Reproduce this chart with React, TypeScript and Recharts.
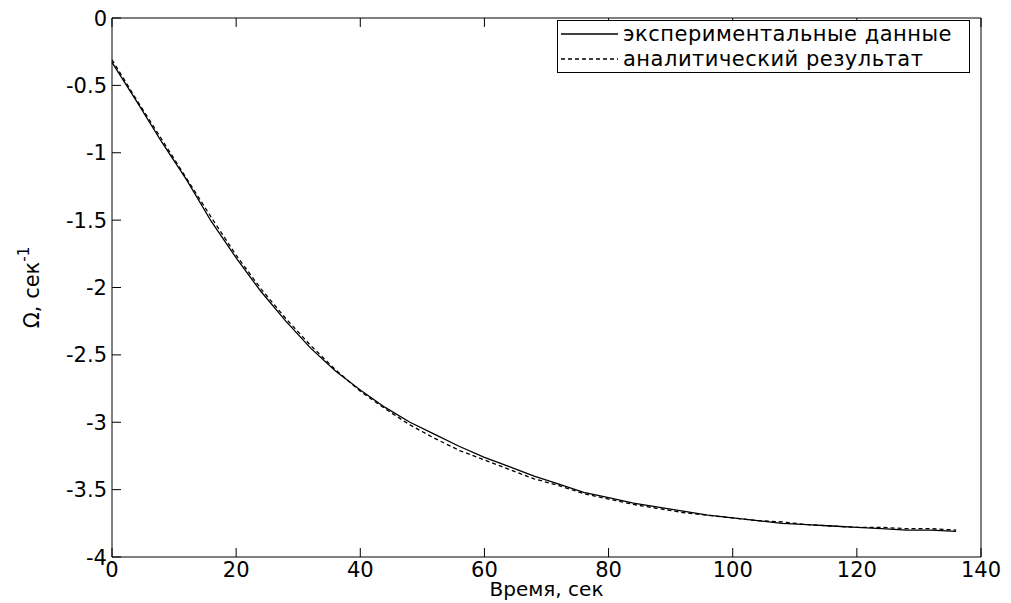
import React from 'react';
import { LineChart, Line, XAxis, YAxis, Legend } from 'recharts';

// time, s
const TIME = [0, 4, 8, 12, 16, 20, 24, 28, 32, 36, 40, 44, 48, 52, 56, 60, 64, 68, 72, 76, 80, 84, 88, 92, 96, 100, 104, 108, 112, 116, 120, 124, 128, 132, 136];
// экспериментальные данные
const EXPERIMENT = [-0.33, -0.62, -0.92, -1.2, -1.51, -1.78, -2.03, -2.25, -2.45, -2.62, -2.76, -2.89, -3.0, -3.09, -3.18, -3.26, -3.33, -3.4, -3.46, -3.52, -3.56, -3.6, -3.63, -3.66, -3.69, -3.71, -3.73, -3.75, -3.76, -3.77, -3.78, -3.79, -3.8, -3.8, -3.81];
// аналитический результат
const ANALYTIC = [-0.31, -0.61, -0.9, -1.19, -1.48, -1.76, -2.01, -2.23, -2.43, -2.61, -2.77, -2.9, -3.02, -3.12, -3.21, -3.28, -3.35, -3.42, -3.47, -3.53, -3.57, -3.61, -3.64, -3.67, -3.69, -3.71, -3.73, -3.74, -3.76, -3.77, -3.78, -3.78, -3.79, -3.79, -3.8];

const X_TICKS = [0, 20, 40, 60, 80, 100, 120, 140];
const Y_TICKS = [-4, -3.5, -3, -2.5, -2, -1.5, -1, -0.5, 0];

const SERIES = [
  { key: 'exp', name: 'экспериментальные данные', dash: undefined },
  { key: 'an', name: 'аналитический результат', dash: '4 3' },
];

const data = TIME.map((t, i) => ({ t, exp: EXPERIMENT[i], an: ANALYTIC[i] }));

const FONT = '"DejaVu Sans", Arial, sans-serif';
const FS = 21;
const TICK_LEN = 9;
const GAP = 5;

// MATLAB style: tick marks point into the plot box
function BottomTick(props: any) {
  const { x, y, payload } = props;
  const axisY = y - GAP;
  return (
    <g>
      <line x1={x} x2={x} y1={axisY} y2={axisY - TICK_LEN} stroke="#000" />
      <text x={x} y={y} dy="0.72em" textAnchor="middle" fontFamily={FONT} fontSize={FS} fill="#000">{payload.value}</text>
    </g>
  );
}

function LeftTick(props: any) {
  const { x, y, payload } = props;
  const axisX = x + GAP;
  return (
    <g>
      <line x1={axisX} x2={axisX + TICK_LEN} y1={y} y2={y} stroke="#000" />
      <text x={x} y={y} dy="0.36em" textAnchor="end" fontFamily={FONT} fontSize={FS} fill="#000">{payload.value}</text>
    </g>
  );
}

function TopTick(props: any) {
  const { x, y } = props;
  return <line x1={x} x2={x} y1={y} y2={y + TICK_LEN} stroke="#000" />;
}

function RightTick(props: any) {
  const { x, y } = props;
  return <line x1={x} x2={x - TICK_LEN} y1={y} y2={y} stroke="#000" />;
}

function LegendBox() {
  return (
    <div style={{ border: '1px solid #000', background: '#fff', width: 413, height: 53, fontFamily: FONT, fontSize: FS, boxSizing: 'border-box' }}>
      {SERIES.map(s => (
        <div key={s.key} style={{ display: 'flex', alignItems: 'center', height: 25, whiteSpace: 'nowrap' }}>
          <svg width={60} height={10} style={{ marginLeft: 3, flex: 'none' }}>
            <line x1={0} x2={57} y1={5} y2={5} stroke="#000" strokeWidth={1.3} strokeDasharray={s.dash} />
          </svg>
          <span style={{ color: '#000', marginLeft: 2, letterSpacing: 0.5 }}>{s.name}</span>
        </div>
      ))}
    </div>
  );
}

function YTitle(props: any) {
  const vb = props.viewBox || {};
  const cx = 32;
  const cy = vb.y + vb.height / 2;
  return (
    <text x={cx} y={cy} transform={`rotate(-90 ${cx} ${cy})`} textAnchor="middle" dominantBaseline="central" fontFamily={FONT} fontSize={FS} fill="#000">
      Ω, сек<tspan dy={-8} fontSize={15}>-1</tspan>
    </text>
  );
}

export default function App() {
  return (
    <div style={{ position: 'absolute', left: 0, top: 0, background: '#fff' }}>
      <LineChart width={1011} height={603} data={data} margin={{ top: 17, right: 29, bottom: 0, left: 52 }}>
        <XAxis
          xAxisId="bottom"
          dataKey="t"
          type="number"
          domain={[0, 140]}
          ticks={X_TICKS}
          height={46}
          tickSize={0}
          tickLine={false}
          tickMargin={GAP}
          stroke="#000"
          tick={<BottomTick />}
          label={{ value: 'Время, сек', position: 'insideBottom', offset: 7, fill: '#000', fontSize: 20, fontFamily: FONT }}
        />
        <XAxis xAxisId="top" orientation="top" dataKey="t" type="number" domain={[0, 140]} ticks={X_TICKS} height={1} tickSize={0} tickMargin={0} tickLine={false} tick={<TopTick />} stroke="#000" />
        <YAxis
          yAxisId="left"
          type="number"
          domain={[-4, 0]}
          ticks={Y_TICKS}
          width={60}
          tickSize={0}
          tickLine={false}
          tickMargin={GAP}
          stroke="#000"
          tick={<LeftTick />}
          label={{ content: <YTitle /> }}
        />
        <YAxis yAxisId="right" orientation="right" type="number" domain={[-4, 0]} ticks={Y_TICKS} width={1} tickSize={0} tickMargin={0} tickLine={false} tick={<RightTick />} stroke="#000" />
        <Legend
          layout="horizontal"
          verticalAlign="middle"
          align="center"
          wrapperStyle={{ position: 'absolute', left: 557, top: 20, width: 413 }}
          content={() => <LegendBox />}
        />
        {SERIES.map(s => (
          <Line
            key={s.key}
            xAxisId="bottom"
            yAxisId="left"
            dataKey={s.key}
            name={s.name}
            type="linear"
            stroke="#000"
            strokeWidth={1.3}
            strokeDasharray={s.dash}
            dot={false}
            isAnimationActive={false}
          />
        ))}
      </LineChart>
    </div>
  );
}
